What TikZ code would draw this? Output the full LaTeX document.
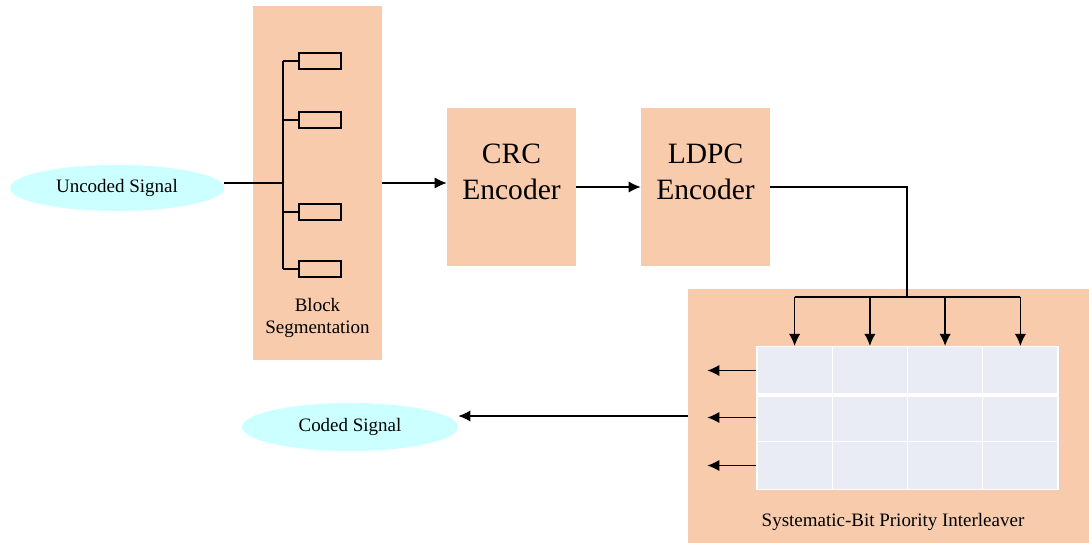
\documentclass[tikz,border=0pt]{standalone}
\usepackage{fontspec}
\setmainfont{Liberation Serif}
\usetikzlibrary{arrows.meta,positioning,shapes.geometric}
\definecolor{segPeach}{RGB}{248,203,173}
\definecolor{sigCyan}{RGB}{204,255,255}
\definecolor{gridGray}{RGB}{233,235,245}

\begin{document}
\begin{tikzpicture}[
  x=0.025cm,y=-0.025cm,
  smallfont/.style={font=\fontsize{13.5}{15}\selectfont},
  sigell/.style={ellipse,fill=sigCyan,inner sep=0pt,smallfont},
  peachbox/.style={rectangle,fill=segPeach,inner sep=0pt,minimum width=3.225cm},
  enctext/.style={align=center,font=\fontsize{21}{25.6}\selectfont},
  blk/.style={draw=black,line width=0.9pt,minimum width=1.05cm,minimum height=0.4cm,inner sep=0pt},
  cellbox/.style={fill=gridGray,draw=white,line width=1pt,minimum width=1.881cm,minimum height=1.19cm,inner sep=0pt},
  ln/.style={line width=1pt,black},
  arr/.style={-{Latex[length=3mm,width=2.8mm]},line width=1pt,black}
]
\useasboundingbox (0,0) rectangle (1089,543);

% boxes
\node[peachbox,minimum height=8.85cm] (seg) at (317.5,183) {};
\node[smallfont,align=center] (seglab) at (317.5,318) {Block\\Segmentation};
\node[peachbox,minimum height=3.95cm] (crc) at (511.5,187) {};
\node[enctext] (crclab) at (511.5,172) {CRC\\Encoder};
\node[peachbox,minimum height=3.95cm] (ldpc) at (705.5,187) {};
\node[enctext] (ldpclab) at (705.5,172) {LDPC\\Encoder};
\node[peachbox,minimum width=10.025cm,minimum height=6.35cm] (interl) at (888.5,416) {};
\node[smallfont] (interllab) at (893,522) {Systematic-Bit Priority Interleaver};

% signals
\node[sigell,minimum width=5.35cm,minimum height=1.15cm] (uncoded) at (117,188) {Uncoded Signal};
\node[sigell,minimum width=5.4cm,minimum height=1.2cm] (coded) at (350,427) {Coded Signal};

% segmentation tree
\coordinate (split) at (283,183);
\foreach \i/\y in {1/61,2/120,3/212,4/269}{
  \node[blk] (b\i) at (320,\y) {};
  \draw[ln] (b\i.west) -- (b\i.west -| split);
}
\draw[ln] (b1.west -| split) -- (b4.west -| split);
\draw[ln] (uncoded.east |- split) -- (split);

% interleaver grid
\foreach \r/\y in {1/370.5,2/417.5,3/465.5}{
  \foreach \c/\x in {1/794.6,2/869.9,3/945.1,4/1020.4}{
    \node[cellbox] (cell-\r-\c) at (\x,\y) {};
  }
  \draw[arr] (cell-\r-1.west) -- ++(-49,0);
}
\draw[white,line width=2.5pt] (cell-1-1.south west) -- (cell-1-4.south east);

% connectors
\draw[arr] (seg.east) -- (crc.west |- seg.east);
\draw[arr] (crc.east) -- (ldpc.west);
\coordinate (bus) at (907,297);
\draw[ln] (ldpc.east) -| (bus);
\draw[ln] (bus -| cell-1-1.north) -- (bus -| cell-1-4.north);
\foreach \c in {1,2,3,4}{\draw[arr] (bus -| cell-1-\c.north) -- (cell-1-\c.north);}
\draw[arr] (interl.west) -- (interl.west -| coded.east);
\end{tikzpicture}
\end{document}
